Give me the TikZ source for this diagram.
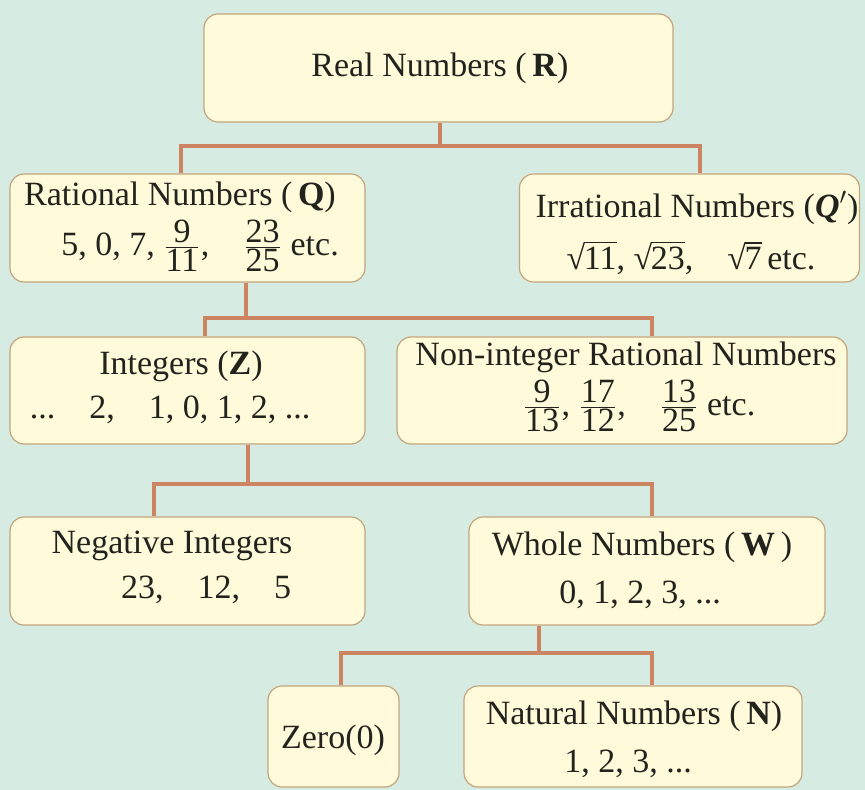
\documentclass[tikz,border=0pt]{standalone}
\usepackage{amsmath}
\usepackage{fontspec}
\setmainfont{Liberation Serif}
\usepackage{xcolor}

\definecolor{bgmint}{RGB}{214,235,225}
\definecolor{boxfill}{RGB}{255,251,218}
\definecolor{boxline}{RGB}{196,165,125}
\definecolor{linkcol}{RGB}{204,132,98}
\definecolor{inkcol}{RGB}{35,35,30}

% Bruch und Wurzel mit Ziffern in Textschrift
\newcommand{\nfrac}[2]{\ensuremath{\frac{\mbox{#1}}{\mbox{#2}}}}
\newcommand{\nroot}[1]{\mbox{√\kern-0.04em\vbox{\hrule height 0.9pt\kern 1.6pt\hbox{#1}}}}

\begin{document}
\begin{tikzpicture}[
    x=0.5pt, y=-0.5pt,
    box/.style={
        rectangle, rounded corners=7pt,
        draw=boxline, line width=0.6pt, fill=boxfill
    },
    txt/.style={font=\fontsize{17}{20}\selectfont, text=inkcol, inner sep=0pt},
    link/.style={draw=linkcol, line width=2pt},
]

% Hintergrund
\fill[bgmint] (0,0) rectangle (865,790);

% Kaesten
\node[box, minimum width=234.5pt, minimum height=54pt]   (real)   at (438.5,68)  {};
\node[box, minimum width=177.5pt, minimum height=54pt]   (rat)    at (187.5,228) {};
\node[box, minimum width=170pt,   minimum height=54pt]   (irr)    at (689.5,228) {};
\node[box, minimum width=177.5pt, minimum height=53.5pt] (int)    at (187.5,390.5) {};
\node[box, minimum width=225pt,   minimum height=53.5pt] (nonint) at (622,390.5) {};
\node[box, minimum width=177.5pt, minimum height=54pt]   (neg)    at (187.5,571) {};
\node[box, minimum width=178pt,   minimum height=54pt]   (whole)  at (647,571) {};
\node[box, minimum width=65.5pt,  minimum height=50.5pt] (zero)   at (333.5,736.5) {};
\node[box, minimum width=169pt,   minimum height=50.5pt] (nat)    at (633,736.5) {};

% Verbindungen
\coordinate (j1) at (440,146); \coordinate (j1l) at (181,146); \coordinate (j1r) at (700,146);
\coordinate (j2) at (246,318); \coordinate (j2l) at (205,318); \coordinate (j2r) at (652,318);
\coordinate (j3) at (248,484); \coordinate (j3l) at (154,484); \coordinate (j3r) at (652,484);
\coordinate (j4) at (539,653); \coordinate (j4l) at (341,653); \coordinate (j4r) at (652,653);

\draw[link] (j1 |- real.south) -- (j1);
\draw[link] (j1l |- rat.north) -- (j1l) -- (j1r) -- (j1r |- irr.north);
\draw[link] (j2 |- rat.south) -- (j2);
\draw[link] (j2l |- int.north) -- (j2l) -- (j2r) -- (j2r |- nonint.north);
\draw[link] (j3 |- int.south) -- (j3);
\draw[link] (j3l |- neg.north) -- (j3l) -- (j3r) -- (j3r |- whole.north);
\draw[link] (j4 |- whole.south) -- (j4);
\draw[link] (j4l |- zero.north) -- (j4l) -- (j4r) -- (j4r |- nat.north);

% Texte
\node[txt] (realT) at (440,68) {Real Numbers (\,\textbf{R})};

\node[txt] (ratA) at (180,197) {Rational Numbers (\,\textbf{Q})};
\node[txt] (ratB) at (200,246) {5, 0, 7, \nfrac{9}{11},\quad \nfrac{23}{25} etc.};

\node[txt] (irrA) at (697,208) {Irrational Numbers (\textbf{\textit{Q}}$'$)};
\node[txt] (irrB) at (691,258) {\nroot{11}, \nroot{23},\quad \nroot{7}\,etc.};

\node[txt] (intA) at (181,366) {Integers (\textbf{Z})};
\node[txt] (intB) at (170,410) {...\quad 2,\quad 1, 0, 1, 2, ...};

\node[txt] (nonintA) at (626,357) {Non-integer Rational Numbers};
\node[txt] (nonintB) at (639,406) {\nfrac{9}{13}, \nfrac{17}{12},\quad \nfrac{13}{25} etc.};

\node[txt] (negA) at (172,546) {Negative Integers};
\node[txt] (negB) at (206,590) {23,\quad 12,\quad 5};

\node[txt] (wholeA) at (642,547) {Whole Numbers (\,\textbf{W}\,)};
\node[txt] (wholeB) at (640,595) {0, 1, 2, 3, ...};

\node[txt] (zeroT) at (333,740) {Zero(0)};

\node[txt] (natA) at (634,716) {Natural Numbers (\,\textbf{N})};
\node[txt] (natB) at (628,764) {1, 2, 3, ...};

\end{tikzpicture}
\end{document}
